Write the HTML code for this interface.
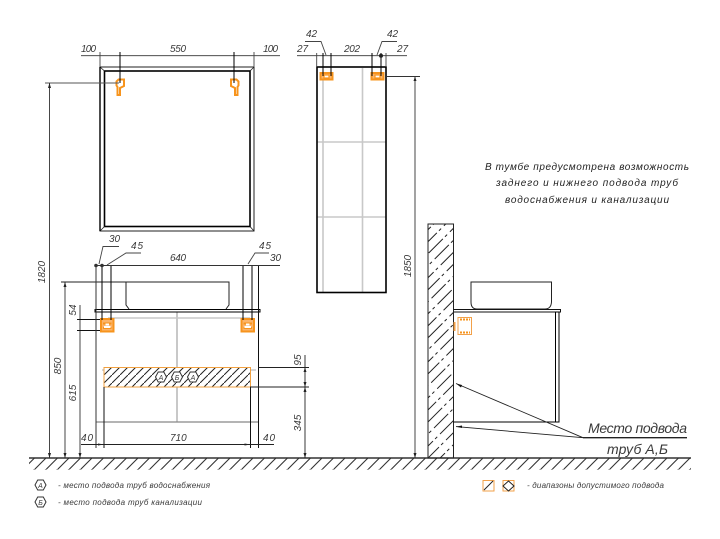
<!DOCTYPE html>
<html><head><meta charset="utf-8"><style>
html,body{margin:0;padding:0;background:#fff}
svg{display:block}
text{font-family:"Liberation Sans","DejaVu Sans",sans-serif;font-style:italic;fill:#3a3a3a}
.d{font-size:10px}
.l{font-size:8px;letter-spacing:1px}
.n{font-size:10px;fill:#222}
</style></head><body>
<svg width="720" height="539" viewBox="0 0 720 539" xmlns="http://www.w3.org/2000/svg">
<defs>
<pattern id="g" patternUnits="userSpaceOnUse" width="11.5" height="11.5" y="458"><path d="M-1 12.5L12.5 -1" stroke="#333" stroke-width="1.1" fill="none"/></pattern>
<pattern id="b" patternUnits="userSpaceOnUse" width="8" height="8" x="104" y="367"><path d="M-1 9L9 -1" stroke="#222" stroke-width="1" fill="none"/></pattern>
<pattern id="w" patternUnits="userSpaceOnUse" width="8.5" height="30" patternTransform="translate(428 224) rotate(45)"><path d="M4 0V20M4 24V27" stroke="#222" stroke-width="1" fill="none"/></pattern>
<g id="ob">
<rect x="1" y="1" width="12.5" height="12.5" fill="#fbb46a" stroke="#f7941d" stroke-width="2"/>
<path d="M3 5.5H11.5M3 10H11.5" stroke="#f7941d" stroke-width="2"/>
<path d="M4 9H10.5M5.5 6.5H9" stroke="#fff" stroke-width="2"/>
</g>
<g id="ob2">
<rect x="1" y="1" width="12" height="6.5" fill="#fbb46a" stroke="#f7941d" stroke-width="2"/>
<rect x="4.5" y="3" width="5" height="3" fill="#fff" stroke="#f7941d" stroke-width="1.2"/>
</g>
<path id="hk" d="M0 2L2 0H7.5V6.5L3.5 8.5V15.5H1V7.5L0 6Z" fill="#fff" stroke="#f7941d" stroke-width="2"/>
<polygon id="hx" points="-5.5,0 -2.8,-5 2.8,-5 5.5,0 2.8,5 -2.8,5" fill="#fff" stroke="#333" stroke-width="1"/>
</defs>

<!-- ground -->
<rect x="29" y="458" width="662" height="12" fill="url(#g)"/>
<path d="M29 458H691" stroke="#333" stroke-width="1.4"/>

<!-- mirror -->
<rect x="100" y="67" width="154" height="164" fill="none" stroke="#222" stroke-width="1"/>
<rect x="104.5" y="71" width="145.5" height="155.5" fill="none" stroke="#000" stroke-width="1.6"/>
<path d="M100 67L104.5 71M254 67L250 71M100 231L104.5 226.5M254 231L250 226.5" stroke="#222" stroke-width=".8"/>
<path d="M100 67V231" stroke="#000" stroke-width="1.4"/>
<use href="#hk" x="116.5" y="79.5"/>
<use href="#hk" transform="translate(238.5 79.5) scale(-1 1)"/>
<path d="M81 55.7H280" stroke="#333" stroke-width=".9"/>
<path d="M100 52V67M254 52V67" stroke="#444" stroke-width=".9"/>
<path d="M120 52V83M234 52V83" stroke="#000" stroke-width="1"/>
<path d="M45 83H119" stroke="#555" stroke-width="1"/>
<text class="d" x="81" y="52" textLength="15" lengthAdjust="spacing">100</text>
<text class="d" x="170" y="52" textLength="16" lengthAdjust="spacing">550</text>
<text class="d" x="263" y="52" textLength="15" lengthAdjust="spacing">100</text>

<!-- vertical dims left -->
<path d="M49.5 83V458M65 282V458M80 305V458" stroke="#333" stroke-width=".9"/>
<path d="M48 88L49.5 83L51 88ZM48 453L49.5 458L51 453ZM63.5 287L65 282L66.5 287ZM63.5 453L65 458L66.5 453ZM78.5 453L80 458L81.5 453Z" fill="#222"/>
<text class="d" transform="translate(45 272) rotate(-90)" text-anchor="middle">1820</text>
<text class="d" transform="translate(61 366) rotate(-90)" text-anchor="middle">850</text>
<text class="d" transform="translate(76 393) rotate(-90)" text-anchor="middle">615</text>
<text class="d" transform="translate(76 310) rotate(-90)" text-anchor="middle">54</text>
<path d="M77 319.5H100M77 330.5H100" stroke="#111" stroke-width=".9"/>

<!-- cabinet front -->
<path d="M108 318H250M102 370H256" stroke="#c8c8c8" stroke-width="1.4"/>
<path d="M177 312V422" stroke="#c8c8c8" stroke-width="2"/>
<path d="M96 422H258" stroke="#888" stroke-width="1.2"/>
<path d="M61 282H229V305L226 309M126 282V305L129 309" fill="none" stroke="#222" stroke-width="1"/>
<path d="M95 309.5H260V312H95Z" fill="#fff" stroke="#000" stroke-width="1"/>
<path d="M96 265V448" stroke="#333" stroke-width="1"/>
<path d="M258.5 265V448" stroke="#111" stroke-width="1"/>
<use href="#ob" x="100" y="318"/>
<use href="#ob" x="240.5" y="318"/>
<path d="M102 265V320M111 265V320M243 265V320M252 265V320" stroke="#000" stroke-width="1"/>
<path d="M95 265.5H280" stroke="#333" stroke-width=".9"/>
<circle cx="96" cy="265.5" r="1.8" fill="#333"/><circle cx="102" cy="265.5" r="1.8" fill="#333"/>
<path d="M99 264L103 246.5H119M107 265L126 253H141M248 264L255 253H269" fill="none" stroke="#444" stroke-width=".9"/>
<text class="d" x="109" y="242" textLength="11" lengthAdjust="spacing">30</text>
<text class="d" x="131" y="249" textLength="12" lengthAdjust="spacing">45</text>
<text class="d" x="259" y="249" textLength="12" lengthAdjust="spacing">45</text>
<text class="d" x="270" y="261" textLength="11" lengthAdjust="spacing">30</text>
<text class="d" x="170" y="261" textLength="16" lengthAdjust="spacing">640</text>

<!-- hatched band -->
<rect x="104" y="367.5" width="146.5" height="19.5" fill="#fff"/>
<rect x="104" y="367.5" width="146.5" height="19.5" fill="url(#b)" stroke="#f0a040" stroke-width="1"/>
<use href="#hx" x="161" y="377"/><use href="#hx" x="177" y="377"/><use href="#hx" x="193" y="377"/>
<text x="161" y="380" font-size="7" text-anchor="middle">A</text>
<text x="177" y="380" font-size="7" text-anchor="middle">Б</text>
<text x="193" y="380" font-size="7" text-anchor="middle">A</text>
<path d="M104 387V448M250.5 387V448" stroke="#111" stroke-width="1"/>
<path d="M81 444.5H274" stroke="#222" stroke-width=".9"/>
<path d="M98 443.5L104 444.5L98 445.5ZM244.5 443.5L250.5 444.5L244.5 445.5Z" fill="#222"/>
<text class="d" x="81" y="441" textLength="12" lengthAdjust="spacing">40</text>
<text class="d" x="170" y="441">710</text>
<text class="d" x="263" y="441" textLength="12" lengthAdjust="spacing">40</text>
<path d="M258 367.5H309M250 387H309" stroke="#222" stroke-width=".9"/>
<path d="M305 355V458" stroke="#222" stroke-width=".9"/>
<path d="M303.5 372L305 367.5L306.5 372ZM303.5 382L305 387L306.5 382ZM303.5 392L305 387L306.5 392ZM303.5 453L305 458L306.5 453Z" fill="#222"/>
<text class="d" transform="translate(301 360) rotate(-90)" text-anchor="middle">95</text>
<text class="d" transform="translate(301 423) rotate(-90)" text-anchor="middle">345</text>

<!-- tall column -->
<path d="M323 72V292M362.5 68V292M317 142H386M317 217H386" stroke="#c8c8c8" stroke-width="1.6"/>
<rect x="317" y="67" width="69" height="225.5" fill="none" stroke="#000" stroke-width="1.6"/>
<use href="#ob2" x="319.5" y="72"/>
<use href="#ob2" x="370.5" y="72"/>
<path d="M297 55.7H407" stroke="#333" stroke-width=".9"/>
<path d="M316.7 53V67M386 53V67" stroke="#444" stroke-width=".9"/>
<path d="M323 53V76M331 53V76M372 53V76M381 53V76" stroke="#000" stroke-width="1"/>
<circle cx="381" cy="55.7" r="2" fill="#222"/>
<path d="M305 41.5H321L326 55M397 41.5H382L377 55" fill="none" stroke="#444" stroke-width=".9"/>
<text class="d" x="306" y="37" textLength="11" lengthAdjust="spacing">42</text>
<text class="d" x="387" y="37" textLength="11" lengthAdjust="spacing">42</text>
<text class="d" x="297" y="52" textLength="11" lengthAdjust="spacing">27</text>
<text class="d" x="397" y="52" textLength="11" lengthAdjust="spacing">27</text>
<text class="d" x="344" y="52" textLength="16" lengthAdjust="spacing">202</text>
<path d="M386 76.5H420M415 76.5V458" stroke="#333" stroke-width=".9"/>
<path d="M413.5 81L415 76.5L416.5 81ZM413.5 453L415 458L416.5 453Z" fill="#222"/>
<text class="d" transform="translate(411 266) rotate(-90)" text-anchor="middle">1850</text>

<!-- wall -->
<rect x="428" y="224" width="25.5" height="234" fill="url(#w)" stroke="#222" stroke-width="1"/>

<!-- side view -->
<path d="M471 282H551.5V302Q551 309 545 309H477Q471 309 471 302Z" fill="#fff" stroke="#222" stroke-width="1"/>
<path d="M453.5 309.5H560.5V312H453.5" fill="none" stroke="#111" stroke-width="1"/>
<rect x="555.5" y="312" width="3.5" height="110" fill="#fff" stroke="#000" stroke-width="1"/>
<path d="M453.5 422H559" stroke="#000" stroke-width="1"/>
<rect x="458" y="317.5" width="13.5" height="17" fill="#fff" stroke="#f2a14a" stroke-width="1"/>
<path d="M460 319.5H470M460 332.5H470" stroke="#f7941d" stroke-width="2" stroke-dasharray="2 1"/>
<rect x="453.5" y="322" width="2" height="9" fill="#f2a14a"/>
<path d="M583 437.7L456 383.5M583 437.7L456 426.6" stroke="#222" stroke-width=".9"/>
<path d="M456 383.5L462 385L461 387.5ZM456 426.6L462 425.5L462 428Z" fill="#111"/>
<path d="M583 437.7H687" stroke="#222" stroke-width="1.3"/>
<text x="588" y="433" font-size="14" fill="#222" textLength="99" lengthAdjust="spacing">Место подвода</text>
<text x="607" y="454" font-size="14" fill="#222" textLength="61" lengthAdjust="spacing">труб А,Б</text>

<!-- note -->
<text class="n" x="485" y="170" textLength="204" lengthAdjust="spacing">В тумбе предусмотрена возможность</text>
<text class="n" x="496" y="186" textLength="182" lengthAdjust="spacing">заднего и нижнего подвода труб</text>
<text class="n" x="505" y="203" textLength="164" lengthAdjust="spacing">водоснабжения и канализации</text>

<!-- legend -->
<use href="#hx" x="40.5" y="485"/>
<use href="#hx" x="40.5" y="502"/>
<text x="40.5" y="488" font-size="7" text-anchor="middle">A</text>
<text x="40.5" y="505" font-size="7" text-anchor="middle">Б</text>
<text class="l" x="58" y="488" textLength="153" lengthAdjust="spacing">- место подвода труб водоснабжения</text>
<text class="l" x="58" y="505" textLength="145" lengthAdjust="spacing">- место подвода труб канализации</text>
<rect x="483" y="480.5" width="11" height="10.5" fill="#fff" stroke="#f2a14a" stroke-width="1"/>
<path d="M484 490L493 481" stroke="#222" stroke-width="1"/>
<rect x="503" y="480.5" width="11" height="10.5" fill="#fff" stroke="#f2a14a" stroke-width="1"/>
<path d="M508.5 481L514 486L508.5 491L503 486Z" fill="none" stroke="#222" stroke-width="1"/>
<text class="l" x="527" y="488" textLength="138" lengthAdjust="spacing">- диапазоны допустимого подвода</text>
</svg>
</body></html>
